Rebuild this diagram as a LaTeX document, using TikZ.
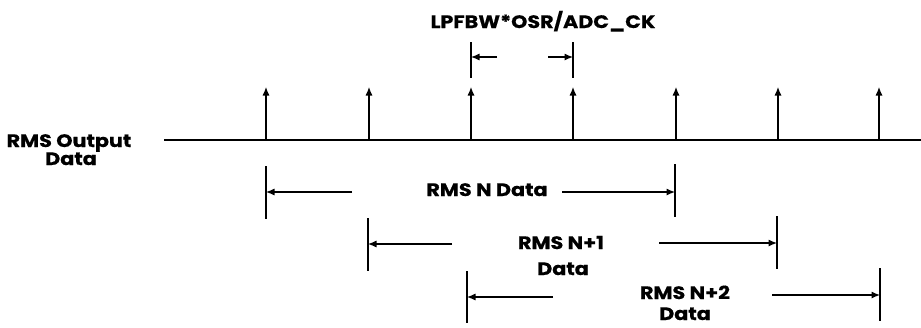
\documentclass[tikz,border=0pt]{standalone}
\usepackage{fontspec}
\setmainfont{Poppins}
\newfontfamily\lblfont[FakeStretch=1.15,FakeBold=0.6]{Poppins}
\usetikzlibrary{arrows.meta}
\begin{document}
\begin{tikzpicture}[x=1pt,y=-1pt,
  line width=1.1pt,
  tip/.style={-{Latex[length=8.5pt,width=7pt]}},
  lbl/.style={font=\lblfont\fontsize{18}{20}\selectfont\bfseries, inner sep=0pt, anchor=base}]
\useasboundingbox (0,0) rectangle (921,327);
% timeline
\coordinate (L0) at (164,140);
\coordinate (L1) at (921,140);
\draw (L0) -- (L1);
% impulses
\foreach \i/\x in {1/266,2/369,3/471,4/573,5/676,6/778,7/879}{
  \coordinate (b\i) at (\x,140);
  \coordinate (t\i) at (\x,87);
  \draw[tip] (b\i) -- (t\i);
}
% labels
\node[lbl] (top) at (543,28) {LPFBW*OSR/ADC\_CK};
\node[lbl] (rmsA) at (69,147) {RMS Output};
\node[lbl] (rmsB) at (71,165) {Data};
% spacing marker
\coordinate (sa1) at (471,42); \coordinate (sa2) at (471,78);
\coordinate (sb1) at (573,42); \coordinate (sb2) at (573,78);
\draw (sa1) -- (sa2); \draw (sb1) -- (sb2);
\coordinate (sat) at (497,57); \coordinate (sah) at (471,57);
\coordinate (sbt) at (548,57); \coordinate (sbh) at (573,57);
\draw[tip] (sat) -- (sah);
\draw[tip] (sbt) -- (sbh);
% RMS N Data
\coordinate (na1) at (266,166); \coordinate (na2) at (266,219);
\coordinate (nb1) at (675,164); \coordinate (nb2) at (675,217);
\draw (na1) -- (na2); \draw (nb1) -- (nb2);
\node[lbl] (nt) at (487,196) {RMS N Data};
\coordinate (nlt) at (352,192); \coordinate (nlh) at (266,192);
\coordinate (nrt) at (562,192); \coordinate (nrh) at (675,192);
\draw[tip] (nlt) -- (nlh);
\draw[tip] (nrt) -- (nrh);
% RMS N+1 Data
\coordinate (pa1) at (368,218); \coordinate (pa2) at (368,271);
\coordinate (pb1) at (777,216); \coordinate (pb2) at (777,269);
\draw (pa1) -- (pa2); \draw (pb1) -- (pb2);
\node[lbl] (pt) at (561,249) {RMS N+1};
\node[lbl] (pd) at (563,275) {Data};
\coordinate (plt) at (452,244); \coordinate (plh) at (368,244);
\coordinate (prt) at (659,243); \coordinate (prh) at (777,243);
\draw[tip] (plt) -- (plh);
\draw[tip] (prt) -- (prh);
% RMS N+2 Data
\coordinate (qa1) at (467,271); \coordinate (qa2) at (467,323);
\coordinate (qb1) at (880,268); \coordinate (qb2) at (880,321);
\draw (qa1) -- (qa2); \draw (qb1) -- (qb2);
\node[lbl] (qt) at (685,299) {RMS N+2};
\node[lbl] (qd) at (685,320) {Data};
\coordinate (qlt) at (553,297); \coordinate (qlh) at (467,297);
\coordinate (qrt) at (772,295); \coordinate (qrh) at (880,295);
\draw[tip] (qlt) -- (qlh);
\draw[tip] (qrt) -- (qrh);
\end{tikzpicture}
\end{document}
